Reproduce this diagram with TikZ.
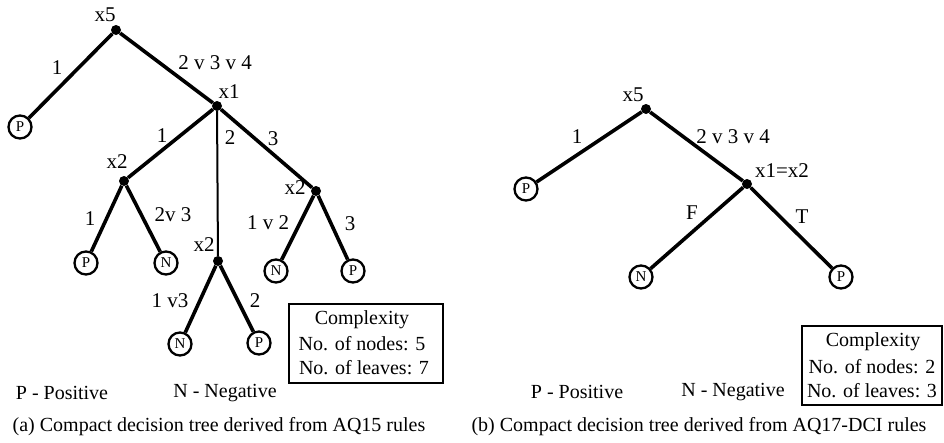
\documentclass[tikz,border=0pt]{standalone}
\usepackage{fontspec}
\setmainfont{Liberation Serif}
\begin{document}
\begin{tikzpicture}[x=1pt,y=-1pt,
  dot/.style={circle,fill=black,inner sep=0pt,minimum size=10pt},
  leaf/.style={circle,draw,line width=2.3pt,inner sep=0pt,minimum size=23pt,font=\fontsize{15}{15}\selectfont},
  edge/.style={line width=3.6pt},
  thinedge/.style={line width=2pt},
  lbl/.style={inner sep=0pt,font=\fontsize{21}{21}\selectfont},
  txt/.style={inner sep=0pt,font=\fontsize{20}{20}\selectfont},
  cbox/.style={draw,line width=2.2pt}]
\useasboundingbox (0,0) rectangle (944,442);
% ---------- left tree ----------
\node[dot] (a5) at (116,30) {};
\node[lbl] (a5l) at (105,15) {x5};
\node[leaf] (aP1) at (20,127) {P};
\node[dot] (a1) at (217,106) {};
\node[lbl] (a1l) at (229,92) {x1};
\node[dot] (a2a) at (124,181) {};
\node[lbl] (a2al) at (117,162) {x2};
\node[dot] (a2b) at (218,261) {};
\node[lbl] (a2bl) at (204,245) {x2};
\node[dot] (a2c) at (316,191) {};
\node[lbl] (a2cl) at (295,188) {x2};
\node[leaf] (aP2) at (86,263) {P};
\node[leaf] (aN1) at (166,263) {N};
\node[leaf] (aN2) at (276,271) {N};
\node[leaf] (aP3) at (353,271) {P};
\node[leaf] (aN3) at (180,344) {N};
\node[leaf] (aP4) at (259,343) {P};
\draw[edge] (a5) -- (aP1);
\draw[edge] (a5) -- (a1);
\draw[edge] (a1) -- (a2a);
\draw[thinedge] (a1) -- (a2b);
\draw[edge] (a1) -- (a2c);
\draw[edge] (a2a) -- (aP2);
\draw[edge] (a2a) -- (aN1);
\draw[edge] (a2c) -- (aN2);
\draw[edge] (a2c) -- (aP3);
\draw[edge] (a2b) -- (aN3);
\draw[edge] (a2b) -- (aP4);
\node[lbl] (e1) at (57,68) {1};
\node[lbl] (e2) at (215,63) {2 v 3 v 4};
\node[lbl] (e3) at (162,136) {1};
\node[lbl] (e4) at (230,138) {2};
\node[lbl] (e5) at (273,139) {3};
\node[lbl] (e6) at (90,219) {1};
\node[lbl] (e7) at (173,215) {2v 3};
\node[lbl] (e8) at (268,223) {1 v 2};
\node[lbl] (e9) at (350,224) {3};
\node[lbl] (e10) at (170,301) {1 v3};
\node[lbl] (e11) at (255,301) {2};
\draw[cbox] (289,304) rectangle (443,383);
\node[txt] (ac1) at (362,320) {Complexity};
\node[txt] (ac2) at (362,344) {No. of nodes: 5};
\node[txt] (ac3) at (364,368) {No. of leaves: 7};
\node[txt] (aleg1) at (62,393) {P - Positive};
\node[txt] (aleg2) at (225,393) {N - Negative};
\node[txt] (acap) at (219,427) {(a) Compact decision tree derived from AQ15 rules};
% ---------- right tree ----------
\node[dot] (b5) at (646,109) {};
\node[lbl] (b5l) at (633,95) {x5};
\node[leaf] (bP1) at (526,189) {P};
\node[dot] (b12) at (747,184) {};
\node[lbl] (b12l) at (782,171) {x1=x2};
\node[leaf] (bN) at (641,277) {N};
\node[leaf] (bP2) at (841,277) {P};
\draw[edge] (b5) -- (bP1);
\draw[edge] (b5) -- (b12);
\draw[edge] (b12) -- (bN);
\draw[edge] (b12) -- (bP2);
\node[lbl] (f1) at (577,137) {1};
\node[lbl] (f2) at (733,137) {2 v 3 v 4};
\node[lbl] (f3) at (692,213) {F};
\node[lbl] (f4) at (802,217) {T};
\draw[cbox] (802,326) rectangle (942,405);
\node[txt] (bc1) at (873,342) {Complexity};
\node[txt] (bc2) at (872,367) {No. of nodes: 2};
\node[txt] (bc3) at (872,391) {No. of leaves: 3};
\node[txt] (bleg1) at (577,392) {P - Positive};
\node[txt] (bleg2) at (733,392) {N - Negative};
\node[txt] (bcap) at (699,427) {(b) Compact decision tree derived from AQ17-DCI rules};
\end{tikzpicture}
\end{document}
